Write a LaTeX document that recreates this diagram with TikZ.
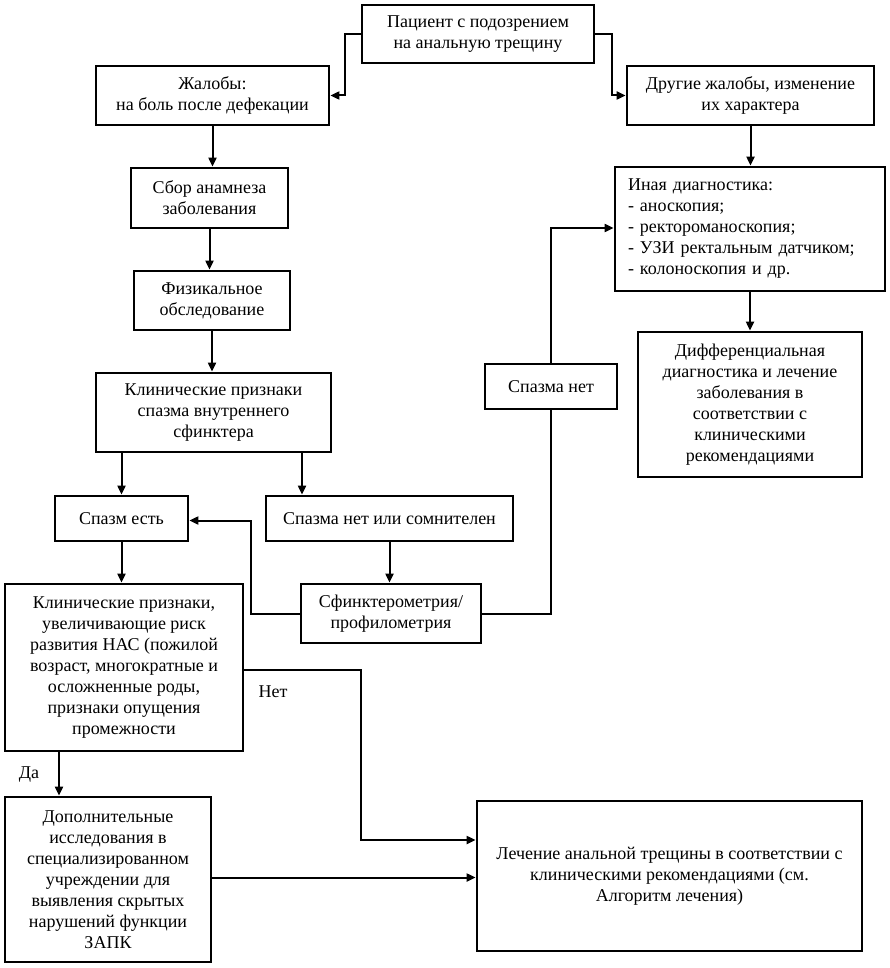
\documentclass[tikz,border=0pt]{standalone}
\usepackage{fontspec}
\setmainfont{Liberation Serif}
\usetikzlibrary{arrows.meta}
\tikzset{
  box/.style={draw, line width=2.8pt, inner sep=0pt, align=center, font=\fontsize{18}{21}\selectfont},
  arr/.style={line width=2pt, -{Triangle[length=9pt,width=8pt]}},
  ln/.style={line width=2pt},
  lbl/.style={font=\fontsize{18}{21}\selectfont, inner sep=0pt}
}
\begin{document}
\begin{tikzpicture}[x=1pt,y=-1pt]
\useasboundingbox (0,0) rectangle (890,968);
\node[box, minimum width=232pt, minimum height=58pt] (p1) at (478,34) {Пациент с подозрением\\на анальную трещину};
\node[box, minimum width=233pt, minimum height=59pt] (zh) at (212.5,95.5) {Жалобы:\\на боль после дефекации};
\node[box, minimum width=247pt, minimum height=59pt] (dr) at (750.5,95.5) {Другие жалобы, изменение\\их характера};
\node[box, minimum width=157pt, minimum height=60pt] (sb) at (209.5,198) {Сбор анамнеза\\заболевания};
\node[box, minimum width=156pt, minimum height=59pt] (fz) at (212,300.5) {Физикальное\\обследование};
\node[box, minimum width=235pt, minimum height=79pt] (kp) at (213.5,412.5) {Клинические признаки\\спазма внутреннего\\сфинктера};
\node[box, minimum width=133pt, minimum height=45pt] (se) at (121.5,518.5) {Спазм есть};
\node[box, minimum width=247pt, minimum height=45pt] (sn) at (389.5,518.5) {Спазма нет или сомнителен};
\node[box, minimum width=180pt, minimum height=59pt] (sf) at (391,613.5) {Сфинктерометрия/\\профилометрия};
\node[box, minimum width=132pt, minimum height=45pt] (snet) at (551,386.5) {Спазма нет};
\node[box, minimum width=270pt, minimum height=124pt, align=left, text width=244pt] (in) at (750,229) {Иная диагностика:\\- аноскопия;\\- ректороманоскопия;\\- УЗИ ректальным датчиком;\\- колоноскопия и др.};
\node[box, minimum width=224pt, minimum height=145pt] (df) at (750,404.5) {Дифференциальная\\диагностика и лечение\\заболевания в\\соответствии с\\клиническими\\рекомендациями};
\node[box, minimum width=238pt, minimum height=167pt] (kr) at (124,667.5) {Клинические признаки,\\увеличивающие риск\\развития НАС (пожилой\\возраст, многократные и\\осложненные роды,\\признаки опущения\\промежности};
\node[box, minimum width=206pt, minimum height=165pt] (dop) at (108,879.5) {Дополнительные\\исследования в\\специализированном\\учреждении для\\выявления скрытых\\нарушений функции\\ЗАПК};
\node[box, minimum width=385pt, minimum height=150pt] (le) at (669.5,876) {Лечение анальной трещины в соответствии с\\клиническими рекомендациями (см.\\Алгоритм лечения)};
\node[lbl] (net) at (273,692) {Нет};
\node[lbl] (da) at (29,775) {Да};
\coordinate (x302) at (302,0);
\coordinate (x59) at (59,0);
% connectors
\draw[arr] (p1.west) -- ++(-16,0) |- (zh.east);
\draw[arr] (p1.east) -- ++(17,0) |- (dr.west);
\draw[arr] (zh.south) -- (zh.south |- sb.north);
\draw[arr] (sb.south) -- (sb.south |- fz.north);
\draw[arr] (fz.south) -- (fz.south |- kp.north);
\draw[arr] (se.north |- kp.south) -- (se.north);
\draw[arr] (kp.south -| x302) -- (sn.north -| x302);
\draw[arr] (se.south) -- (se.south |- kr.north);
\draw[arr] (sn.south) -- (sn.south |- sf.north);
\draw[arr] (sf.west) -- ++(-49,0) |- ([yshift=-2pt]se.east);
\draw[ln] (sf.east) -| (snet.south);
\draw[arr] (snet.north) |- ([yshift=1pt]in.west);
\draw[arr] (dr.south) -- (dr.south |- in.north);
\draw[arr] (in.south) -- (in.south |- df.north);
\draw[arr] ([yshift=-2pt]kr.east) -- ++(117,0) |- ([yshift=36pt]le.west);
\draw[arr] ([yshift=2pt]dop.east) -- ([yshift=2pt]dop.east -| le.west);
\draw[arr] (kr.south -| x59) -- (dop.north -| x59);
\end{tikzpicture}
\end{document}
